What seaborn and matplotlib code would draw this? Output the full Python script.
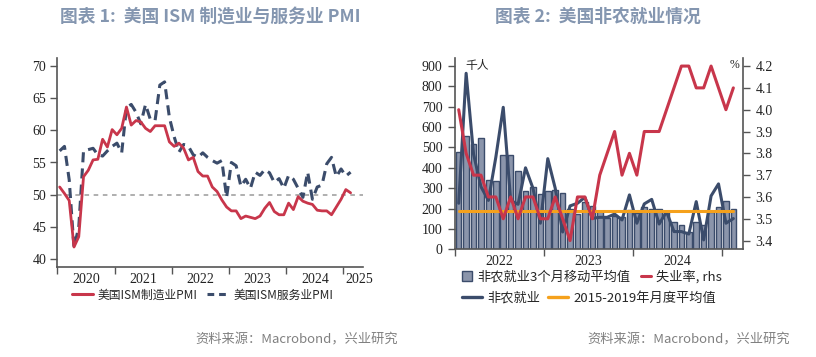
import matplotlib
matplotlib.use("Agg")
import numpy as np
import pandas as pd
import matplotlib.pyplot as plt
import seaborn as sns
from matplotlib.lines import Line2D
from matplotlib.patches import Patch

# ---------------- data ----------------
# ISM PMI, monthly Jan 2020 - Feb 2025
pmi_manufacturing = [
    51.2, 50.2, 49.1, 41.9, 43.5, 52.8, 53.8, 55.4, 55.5, 58.6, 57.4, 60.1,
    59.3, 60.3, 63.6, 60.8, 61.5, 61.3, 60.3, 59.8, 60.7, 60.7, 60.7, 58.2,
    57.5, 58.0, 57.2, 55.4, 55.8, 53.6, 52.9, 52.9, 51.2, 50.5, 49.2, 48.1,
    47.5, 47.5, 46.3, 46.7, 46.5, 46.3, 46.7, 47.9, 48.8, 47.4, 46.9, 46.9,
    48.7, 47.7, 49.7, 49.0, 48.7, 48.5, 47.6, 47.5, 47.5, 46.9, 48.1, 49.3,
    50.8, 50.3,
]
pmi_services = [
    56.8, 57.5, 52.3, 41.8, 45.0, 56.8, 57.0, 57.2, 56.2, 56.0, 56.8, 57.5,
    58.0, 56.5, 63.5, 64.0, 62.8, 61.0, 64.0, 61.7, 61.5, 67.0, 67.5, 62.0,
    59.0, 56.6, 57.8, 57.5, 56.2, 55.8, 56.5, 55.8, 55.3, 54.9, 55.3, 49.6,
    55.0, 54.5, 51.3, 52.4, 51.0, 53.5, 53.0, 53.9, 53.4, 51.9, 52.5, 51.0,
    53.0, 52.4, 51.0, 49.6, 53.5, 49.3, 51.2, 51.5, 54.8, 55.8, 52.8, 54.0,
    52.9, 53.5,
]
pmi_years = ["2020", "2021", "2022", "2023", "2024", "2025"]

# Nonfarm payrolls, monthly Jan 2022 - Feb 2025 (thousands)
payroll_3m_avg = [
    478, 556, 519, 546, 338, 333, 463, 463, 386, 287, 305, 272,
    288, 291, 277, 199, 175, 232, 211, 188, 155, 162, 158, 195,
    180, 206, 199, 197, 185, 132, 120, 83, 132, 118, 181, 210,
    237, 200,
]
payroll_monthly = [
    226, 864, 467, 307, 240, 452, 697, 240, 221, 400, 300, 128,
    445, 300, 85, 213, 226, 255, 152, 157, 157, 173, 144, 267,
    128, 223, 245, 124, 185, 87, 87, 75, 234, 46, 262, 321,
    128, 151,
]
unemployment_rate = [
    4.0, 3.8, 3.7, 3.7, 3.6, 3.6, 3.5, 3.6, 3.5, 3.6, 3.6, 3.5,
    3.5, 3.6, 3.5, 3.4, 3.6, 3.6, 3.5, 3.7, 3.8, 3.9, 3.7, 3.8,
    3.7, 3.9, 3.9, 3.9, 4.0, 4.1, 4.2, 4.2, 4.1, 4.1, 4.2, 4.1,
    4.0, 4.1,
]
payroll_2015_2019_avg = 190
jobs_years = ["2022", "2023", "2024"]

# ---------------- style ----------------
RED = "#C8364B"
NAVY = "#3B4C6B"
BARFILL = "#8B95AB"
ORANGE = "#F5A11C"
TITLE_C = "#8496B0"
SPINE_C = "#555555"

sns.set_theme(style="white")
plt.rcParams["font.family"] = ["Liberation Serif", "Noto Sans CJK SC", "DejaVu Sans"]
CJK = ["Noto Sans CJK SC", "DejaVu Sans"]

W, H = 816, 357
fig = plt.figure(figsize=(W / 100, H / 100), dpi=100)


def px_axes(x0, x1, ytop, ybot):
    return fig.add_axes([x0 / W, (H - ybot) / H, (x1 - x0) / W, (ybot - ytop) / H])


ax1 = px_axes(57.3, 363, 58, 267)
ax2 = px_axes(455, 743, 58, 249.3)
ax2r = ax2.twinx()

# ---------------- left chart ----------------
df1 = pd.DataFrame({"m": np.arange(len(pmi_manufacturing)),
                    "manu": pmi_manufacturing, "serv": pmi_services})
ax1.axhline(50, color="#9A9A9A", lw=1.1, ls=(0, (3, 3)), zorder=1)
sns.lineplot(data=df1, x="m", y="serv", ax=ax1, color=NAVY, lw=2.2,
             linestyle=(0, (3.3, 2.0)), zorder=3)
sns.lineplot(data=df1, x="m", y="manu", ax=ax1, color=RED, lw=2.0, zorder=4)

ax1.set_xlim(-0.5, 63.6)
ax1.set_ylim(38.8, 71.2)
ax1.set_yticks(np.arange(40, 71, 5))
ax1.set_xticks([-0.5 + 12 * i for i in range(6)])
ax1.set_xticklabels([])
ax1.set_xticks([5.5 + 12 * i for i in range(5)] + [62.9], minor=True)
ax1.set_xticklabels(pmi_years, minor=True)
ax1.set_xlabel("")
ax1.set_ylabel("")
for s in ["top", "right"]:
    ax1.spines[s].set_visible(False)
for s in ["left", "bottom"]:
    ax1.spines[s].set_color(SPINE_C)
    ax1.spines[s].set_linewidth(1.2)
ax1.tick_params(axis="y", which="major", direction="out", length=5, width=1,
                color=SPINE_C, pad=3, labelsize=10, labelcolor="#222222", left=True)
ax1.tick_params(axis="x", which="major", direction="out", length=5, width=1,
                color=SPINE_C, bottom=True)
ax1.tick_params(axis="x", which="minor", length=0, pad=4, labelsize=10,
                labelcolor="#222222", bottom=True)

# ---------------- right chart ----------------
df2 = pd.DataFrame({"m": np.arange(len(payroll_monthly)),
                    "avg3": payroll_3m_avg, "nfp": payroll_monthly,
                    "ur": unemployment_rate,
                    "base": [payroll_2015_2019_avg] * len(payroll_monthly)})
sns.barplot(data=df2, x="m", y="avg3", ax=ax2, native_scale=True, color=BARFILL,
            edgecolor=NAVY, linewidth=1.0, width=0.75, saturation=1, zorder=2)
sns.lineplot(data=df2, x="m", y="nfp", ax=ax2, color=NAVY, lw=2.2, zorder=3)
sns.lineplot(data=df2, x="m", y="base", ax=ax2, color=ORANGE, lw=2.2, zorder=4)
sns.lineplot(data=df2, x="m", y="ur", ax=ax2r, color=RED, lw=2.2)

ax2.set_xlim(-0.5, 38.3)
ax2.set_ylim(0, 939)
ax2r.set_ylim(3.36, 4.237)
ax2.set_yticks(np.arange(0, 901, 100))
ax2r.set_yticks(np.round(np.arange(3.4, 4.21, 0.1), 1))
ax2r.set_yticklabels([f"{v:.1f}" for v in np.round(np.arange(3.4, 4.21, 0.1), 1)])
ax2.set_xticks([-0.5 + 12 * i for i in range(4)])
ax2.set_xticklabels([])
ax2.set_xticks([5.5 + 12 * i for i in range(3)], minor=True)
ax2.set_xticklabels(jobs_years, minor=True)
for a in (ax2, ax2r):
    a.set_xlabel("")
    a.set_ylabel("")
    a.spines["top"].set_visible(False)
ax2.spines["right"].set_visible(False)
for s in ["left", "bottom"]:
    ax2.spines[s].set_color(SPINE_C)
    ax2.spines[s].set_linewidth(1.2)
for s in ["left", "bottom"]:
    ax2r.spines[s].set_visible(False)
ax2r.spines["right"].set_color(SPINE_C)
ax2r.spines["right"].set_linewidth(1.2)
ax2.tick_params(axis="y", which="major", direction="out", length=5, width=1,
                color=SPINE_C, pad=4, labelsize=10, labelcolor="#222222", left=True)
ax2r.tick_params(axis="y", which="major", direction="out", length=5, width=1,
                 color=SPINE_C, pad=4, labelsize=10, labelcolor="#222222", right=True)
ax2.tick_params(axis="x", which="major", direction="out", length=5, width=1,
                color=SPINE_C, bottom=True)
ax2.tick_params(axis="x", which="minor", length=0, pad=4, labelsize=10,
                labelcolor="#222222", bottom=True)
ax2r.grid(False)
ax2.grid(False)
ax1.grid(False)

ax2.text(0.035, 0.995, "千人", transform=ax2.transAxes, ha="left", va="top",
         fontsize=8.5, family=CJK, color="#222222")
ax2.text(0.972, 0.995, "%", transform=ax2.transAxes, ha="center", va="top",
         fontsize=8.5, family=["Liberation Serif"], color="#222222")

# ---------------- titles & sources ----------------
fig.text(210 / W, 1 - 17 / H, "图表 1:  美国 ISM 制造业与服务业 PMI", ha="center",
         va="center", fontsize=12.8, fontweight="bold", color=TITLE_C, family=CJK)
fig.text(598 / W, 1 - 17 / H, "图表 2:  美国非农就业情况", ha="center",
         va="center", fontsize=12.8, fontweight="bold", color=TITLE_C, family=CJK)
fig.text(297 / W, 1 - 340 / H, "资料来源：Macrobond，兴业研究", ha="center",
         va="center", fontsize=9.5, color="#808080", family=CJK)
fig.text(689 / W, 1 - 340 / H, "资料来源：Macrobond，兴业研究", ha="center",
         va="center", fontsize=9.5, color="#808080", family=CJK)

# ---------------- legends ----------------
leg_font = {"family": CJK, "size": 8.5}
h_manu = Line2D([], [], color=RED, lw=2.2)
h_serv = Line2D([], [], color=NAVY, lw=2.2, linestyle=(0, (2.2, 1.6)))
fig.legend([h_manu, h_serv], ["美国ISM制造业PMI", "美国ISM服务业PMI"],
           loc="center left", bbox_to_anchor=(72 / W, 1 - 295 / H), ncol=2,
           frameon=False, prop=leg_font, handlelength=1.8, handletextpad=0.4,
           columnspacing=0.8, borderpad=0, borderaxespad=0)

leg_font2 = {"family": CJK, "size": 9.5}
h_bar = Patch(facecolor=BARFILL, edgecolor=NAVY, linewidth=1.0)
h_ur = Line2D([], [], color=RED, lw=2.2)
h_nfp = Line2D([], [], color=NAVY, lw=2.4)
h_base = Line2D([], [], color=ORANGE, lw=2.4)
fig.legend([h_bar, h_ur], ["非农就业3个月移动平均值", "失业率, rhs"],
           loc="center left", bbox_to_anchor=(462 / W, 1 - 277 / H), ncol=2,
           frameon=False, prop=leg_font2, handlelength=0.75, handleheight=0.75,
           handletextpad=0.4, columnspacing=0.8, borderpad=0, borderaxespad=0)
fig.legend([h_nfp, h_base], ["非农就业", "2015-2019年月度平均值"],
           loc="center left", bbox_to_anchor=(462 / W, 1 - 298 / H), ncol=2,
           frameon=False, prop=leg_font2, handlelength=1.5, handletextpad=0.4,
           columnspacing=0.6, borderpad=0, borderaxespad=0)

fig.savefig("out.png", dpi=100)
